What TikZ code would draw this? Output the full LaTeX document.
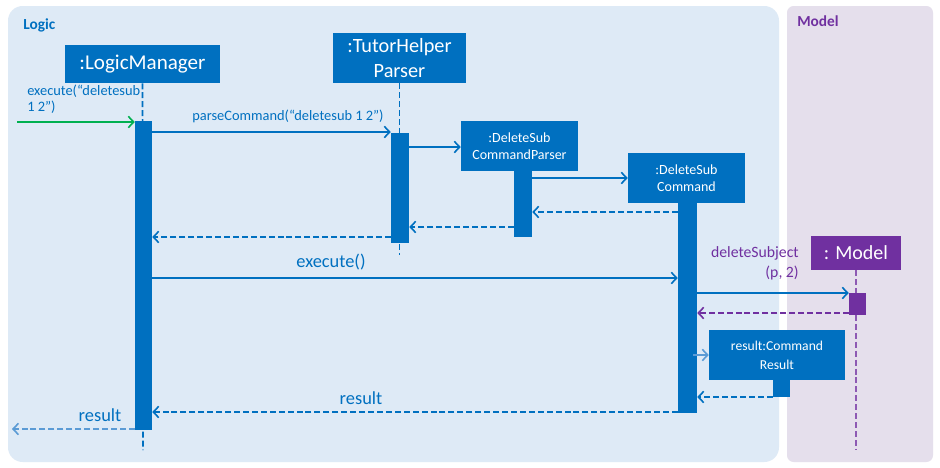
\documentclass[tikz,border=0pt]{standalone}
\usepackage{fontspec}
\setmainfont{Carlito}
\usetikzlibrary{arrows.meta,fit}
\definecolor{blu}{HTML}{0070C0}
\definecolor{lblu}{HTML}{5B9BD5}
\definecolor{pur}{HTML}{7030A0}
\definecolor{logicbg}{HTML}{DEEAF6}
\definecolor{modelbg}{HTML}{E5DFEC}
\definecolor{grn}{HTML}{00B050}
\begin{document}
\begin{tikzpicture}[x=0.75pt,y=-0.75pt,
  box/.style={fit={#1},inner sep=0pt,fill=blu,draw=none},
  bar/.style={fit={#1},inner sep=0pt,fill=blu,draw=none},
  pbox/.style={fit={#1},inner sep=0pt,fill=pur,draw=none},
  boxtxt/.style={text=white,align=center,inner sep=0pt},
  life/.style={draw=blu,line width=1.2pt,dash pattern=on 4.5pt off 2.2pt},
  plife/.style={draw=pur!80!white,line width=1.2pt,dash pattern=on 4.5pt off 2.2pt},
  msg/.style={draw=blu,line width=1.3pt,-{Straight Barb[length=4pt,width=8.5pt,line width=1.2pt]}},
  ret/.style={msg,dash pattern=on 4.5pt off 2.2pt},
  lbl/.style={text=blu,inner sep=0pt},
  ]
\useasboundingbox (0,0) rectangle (940,468);
\fill[white] (0,0) rectangle (940,468);
% frames
\fill[logicbg,rounded corners=11pt] (8,6) rectangle (779,462);
\fill[modelbg,rounded corners=5pt] (787,6) rectangle (933,462);
\node[anchor=west,text=blu,font=\fontsize{11.5pt}{13pt}\selectfont\bfseries,inner sep=0pt] (logiclbl) at (23,25) {Logic};
\node[anchor=west,text=pur,font=\fontsize{11.5pt}{13pt}\selectfont\bfseries,inner sep=0pt] (modellbl) at (797,21) {Model};

% objects
\node[box={(65,45)(220,83)}] (lm) {};
\node[boxtxt,font=\fontsize{15.8pt}{18pt}\selectfont] (lmt) at (lm.center) {:LogicManager};
\node[box={(333,33)(466,83)}] (tp) {};
\node[boxtxt,font=\fontsize{15.2pt}{19pt}\selectfont] (tpt) at (tp.center) {:TutorHelper\\Parser};
\node[box={(461,121)(578,171)}] (dscp) {};
\node[boxtxt,font=\fontsize{10.5pt}{13pt}\selectfont] (dscpt) at (dscp.center) {:DeleteSub\\CommandParser};
\node[box={(628,153)(745,203)}] (dsc) {};
\node[boxtxt,font=\fontsize{10.5pt}{13pt}\selectfont] (dsct) at (dsc.center) {:DeleteSub\\Command};
\node[pbox={(811,236)(901,270)}] (mdl) {};
\node[boxtxt,font=\fontsize{15pt}{18pt}\selectfont] (mdlt) at (mdl.center) {: Model};
\node[box={(709,330)(845,380)}] (cr) {};
\node[boxtxt,font=\fontsize{10.2pt}{14pt}\selectfont] (crt) at (cr.center) {result:Command\\Result};

% lifelines
\coordinate (lmEnd) at (143,450);
\coordinate (tpEnd) at (399.5,255);
\coordinate (mdlEnd) at (856,450);
\draw[life] (lm.south) -- (lmEnd);
\draw[life] (tp.south) -- (tpEnd);
\draw[plife] (mdl.south) -- (mdlEnd);

% activation bars
\node[bar={(135,121)(152,430)}] (alm) {};
\node[bar={(391,133)(409,243)}] (atp) {};
\node[bar={(514,171)(532,237)}] (adscp) {};
\node[bar={(678,203)(697,413)}] (adsc) {};
\node[pbox={(849,293)(866,315)}] (amdl) {};
\node[bar={(773,380)(790,397)}] (acr) {};

% messages
\coordinate (start) at (17,122);
\draw[msg,draw=grn] (start) -- (alm.west |- start);
\node[lbl,anchor=north west,align=left,font=\fontsize{10.8pt}{12pt}\selectfont] (exlbl) at (27,85) {execute(“deletesub\\1 2”)};

\draw[msg] (alm.east |- 0,132) -- (atp.west |- 0,132);
\node[lbl,font=\fontsize{10.8pt}{12pt}\selectfont] (pclbl) at (288,116) {parseCommand(“deletesub 1 2”)};

\draw[msg] (atp.east |- 0,147) -- (dscp.west |- 0,147);
\draw[msg] (adscp.east |- 0,178) -- (dsc.west |- 0,178);
\draw[ret] (adsc.west |- 0,212) -- (adscp.east |- 0,212);
\draw[ret] (adscp.west |- 0,227) -- (atp.east |- 0,227);
\draw[ret] (atp.west |- 0,237) -- (alm.east |- 0,237);

\draw[msg] (alm.east |- 0,278) -- (adsc.west |- 0,278);
\node[lbl,font=\fontsize{13.8pt}{15pt}\selectfont] (exelbl) at (331,262) {execute()};

\draw[msg] (adsc.east |- 0,293) -- (amdl.west |- 0,293);
\node[lbl,text=pur,anchor=north east,align=right,font=\fontsize{11.8pt}{15pt}\selectfont] (dslbl) at (799,246) {deleteSubject\\(p, 2)};
\draw[ret,draw=pur] (amdl.west |- 0,313) -- (adsc.east |- 0,313);

\draw[msg,draw=lblu,line width=0.9pt] (693,355) -- (cr.west |- 0,355);
\draw[ret] (acr.west |- 0,397) -- (adsc.east |- 0,397);

\draw[ret] (adsc.west |- 0,412) -- (alm.east |- 0,412);
\node[lbl,font=\fontsize{13.8pt}{15pt}\selectfont] (r1lbl) at (361,398) {result};

\coordinate (endpt) at (12,429);
\draw[ret,draw=lblu] (alm.west |- endpt) -- (endpt);
\node[lbl,font=\fontsize{13.8pt}{15pt}\selectfont] (r2lbl) at (100,415) {result};
\end{tikzpicture}
\end{document}
